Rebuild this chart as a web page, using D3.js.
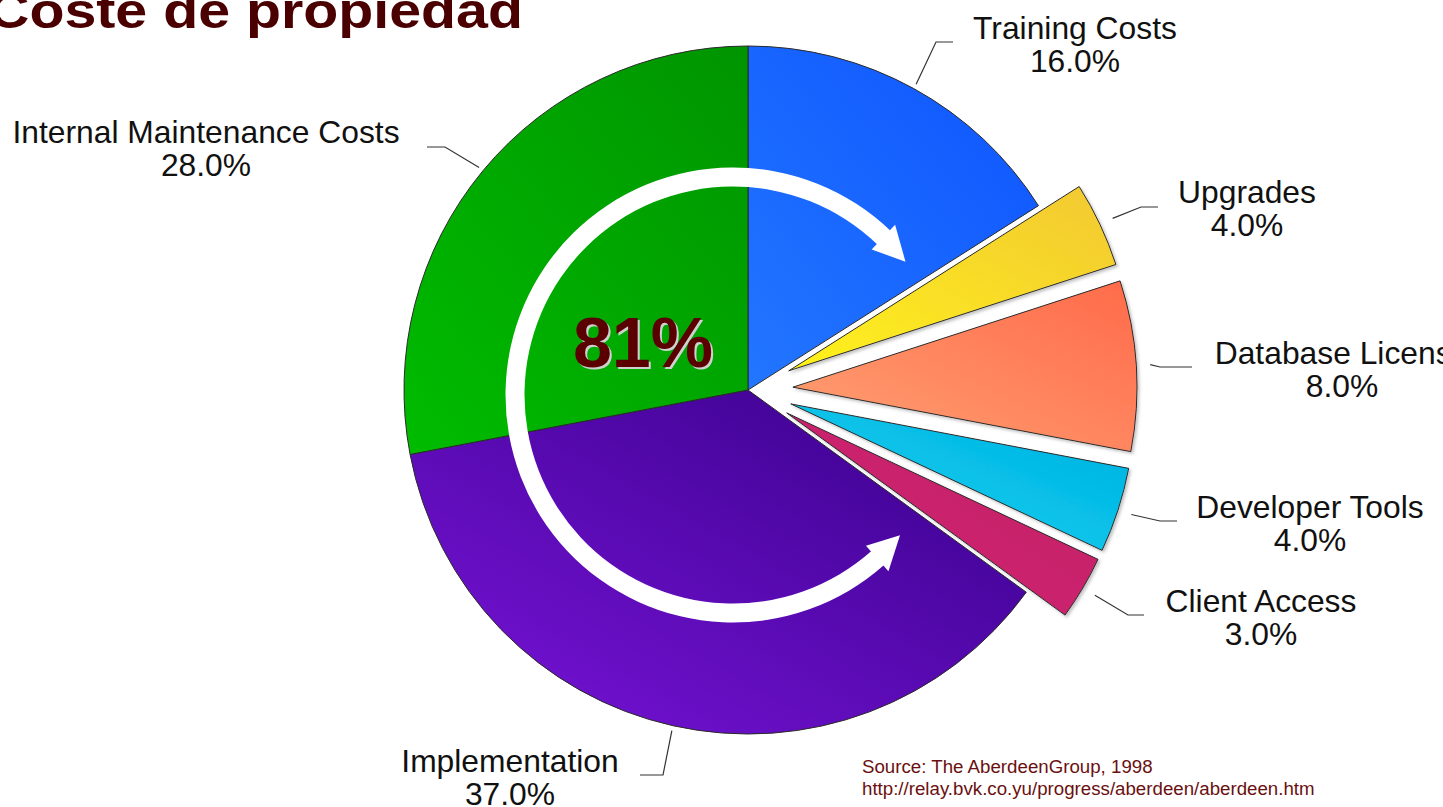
<!DOCTYPE html>
<html>
<head>
<meta charset="utf-8">
<script src="https://cdn.jsdelivr.net/npm/d3@7"></script>
<style>
  body { margin: 0; background: #fff; }
  svg { display: block; font-family: "Liberation Sans", Arial, sans-serif; }
</style>
</head>
<body>
<div id="chart"></div>
<script>
// data
var categories = ["Training Costs", "Upgrades", "Database License", "Developer Tools",
                  "Client Access", "Implementation", "Internal Maintenance Costs"];
var values = [16, 4, 8, 4, 3, 37, 28];
var exploded = [false, true, true, true, true, false, false];
var highlightLabel = "81%";
var titleText = "Coste de propiedad";
var sourceLines = ["Source: The AberdeenGroup, 1998",
                   "http://relay.bvk.co.yu/progress/aberdeen/aberdeen.htm"];

// colours per slice [light, dark]
var colors = [
  ["#2276ff", "#0e54ff"],
  ["#fff21c", "#f2c832"],
  ["#ffa274", "#ff6a4a"],
  ["#10d6f2", "#00aee0"],
  ["#d62478", "#bf1e62"],
  ["#7a14da", "#360088"],
  ["#00bc00", "#009400"]
];

// layout for the labels: elbow of the leader, end of leader, label centre / baseline
var labelLayout = [
  {elbow: [936, 42],  end: [953, 42],  x: 1075, y: 39},
  {elbow: [1141, 207], end: [1158, 207], x: 1247, y: 203},
  {elbow: [1160, 367], end: [1192, 367], x: 1342, y: 364},
  {elbow: [1160, 521], end: [1177, 521], x: 1310, y: 518},
  {elbow: [1128, 615], end: [1144, 615], x: 1261, y: 612},
  {elbow: [663, 775],  end: [640, 775],  x: 510,  y: 772},
  {elbow: [445, 147],  end: [427, 147],  x: 206,  y: 143}
];

var W = 1443, H = 807;
var cx = 748, cy = 390, radius = 344, explode = 45;

var svg = d3.select("#chart")
  .append("svg")
    .attr("width", W)
    .attr("height", H);

var defs = svg.append("defs");

colors.forEach(function(c, i) {
  var g = defs.append("linearGradient")
    .attr("id", "grad" + i)
    .attr("x1", 0).attr("y1", 1)
    .attr("x2", 1).attr("y2", 0);
  g.append("stop").attr("offset", "0%").attr("stop-color", c[0]);
  g.append("stop").attr("offset", "100%").attr("stop-color", c[1]);
});

var shadow = defs.append("filter").attr("id", "shadow")
  .attr("x", "-10%").attr("y", "-10%").attr("width", "120%").attr("height", "120%");
shadow.append("feDropShadow")
  .attr("dx", 2).attr("dy", 2).attr("stdDeviation", 1.5)
  .attr("flood-color", "#888").attr("flood-opacity", 0.5);

var data = categories.map(function(c, i) {
  return {name: c, value: values[i], exploded: exploded[i], idx: i};
});

var pie = d3.pie().sort(null).value(function(d) { return d.value; });
var arcs = pie(data);

var arc = d3.arc().innerRadius(0).outerRadius(radius);

var pieG = svg.append("g")
  .attr("transform", "translate(" + cx + "," + cy + ")");

function midAngle(d) { return (d.startAngle + d.endAngle) / 2; }

pieG.selectAll("path.slice")
  .data(arcs)
  .enter()
  .append("path")
    .attr("class", "slice")
    .attr("d", arc)
    .attr("transform", function(d) {
      if (!d.data.exploded) return null;
      var a = midAngle(d);
      return "translate(" + (Math.sin(a) * explode) + "," + (-Math.cos(a) * explode) + ")";
    })
    .style("fill", function(d) { return "url(#grad" + d.data.idx + ")"; })
    .style("stroke", "#2a2a2a")
    .style("stroke-width", 1)
    .attr("filter", function(d) { return d.data.exploded ? "url(#shadow)" : null; });

// circular double arrow over the 81%
var acx = 733, acy = 395, ar = 218, aw = 19;
var a0 = -221.7 * Math.PI / 180, a1 = 43.9 * Math.PI / 180;
var arrowG = svg.append("g")
  .attr("transform", "translate(" + acx + "," + acy + ")");
arrowG.append("path")
  .attr("d", d3.arc()({innerRadius: ar - aw / 2, outerRadius: ar + aw / 2, startAngle: a0, endAngle: a1}))
  .style("fill", "#fff");

function pt(r, a) { return [Math.sin(a) * r, -Math.cos(a) * r]; }
function head(aBase, aTip) {
  return [pt(ar - 17, aBase), pt(ar + 17, aBase), pt(ar, aTip)];
}
[head(a1 - 0.005, a1 + 8.4 * Math.PI / 180),
 head(a0 + 0.005, a0 - 8.3 * Math.PI / 180)].forEach(function(h) {
  arrowG.append("path")
    .attr("d", d3.line()(h) + "Z")
    .style("fill", "#fff");
});

// leader lines
var leadG = svg.append("g");
arcs.forEach(function(d, i) {
  var a = midAngle(d);
  var r0 = d.data.exploded ? radius + explode + 14 : radius + 5;
  var p0 = [cx + Math.sin(a) * r0, cy - Math.cos(a) * r0];
  var L = labelLayout[i];
  leadG.append("path")
    .attr("d", d3.line()([p0, L.elbow, L.end]))
    .style("fill", "none")
    .style("stroke", "#333")
    .style("stroke-width", 1.2);
});

// slice labels
var labG = svg.append("g");
arcs.forEach(function(d, i) {
  var L = labelLayout[i];
  var t = labG.append("text")
    .attr("text-anchor", "middle")
    .style("font-size", "31.8px")
    .style("fill", "#111");
  t.append("tspan").attr("x", L.x).attr("y", L.y).text(d.data.name);
  t.append("tspan").attr("x", L.x).attr("y", L.y + 33).text(d.data.value.toFixed(1) + "%");
});

// 81% with shadow
svg.append("text")
  .attr("x", 645).attr("y", 369)
  .attr("text-anchor", "middle")
  .style("font-size", "70px").style("font-weight", "bold")
  .style("fill", "#d0d0d0")
  .text(highlightLabel);
svg.append("text")
  .attr("x", 643).attr("y", 367)
  .attr("text-anchor", "middle")
  .style("font-size", "70px").style("font-weight", "bold")
  .style("fill", "#5a0000")
  .text(highlightLabel);

// title
svg.append("text")
  .attr("x", -12).attr("y", 28)
  .attr("textLength", 535)
  .attr("lengthAdjust", "spacingAndGlyphs")
  .style("font-size", "50px").style("font-weight", "bold")
  .style("fill", "#4a0000")
  .text(titleText);

// source
svg.selectAll("text.src")
  .data(sourceLines)
  .enter()
  .append("text")
    .attr("class", "src")
    .attr("x", 862)
    .attr("y", function(d, i) { return 773 + i * 22; })
    .style("font-size", "18.7px")
    .style("fill", "#6a1010")
    .text(function(d) { return d; });
</script>
</body>
</html>
